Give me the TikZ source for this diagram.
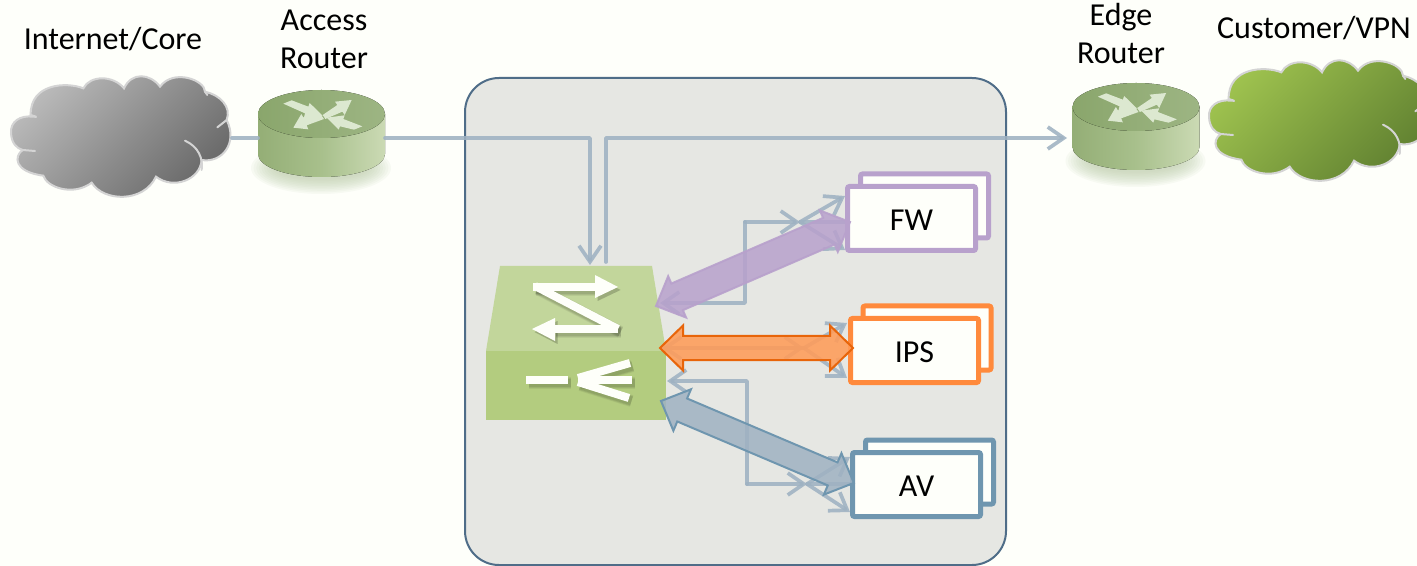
\documentclass[tikz,border=0pt]{standalone}
\usepackage{fontspec}
\setmainfont{Carlito}
\usetikzlibrary{arrows.meta,calc}
\definecolor{bg}{HTML}{FEFFFA}
\definecolor{panelfill}{HTML}{E6E7E3}
\definecolor{panelline}{HTML}{4F6D88}
\definecolor{wire}{HTML}{9FB2C2}
\definecolor{fwc}{HTML}{B8A1CC}
\definecolor{ipsc}{HTML}{FF8A3C}
\definecolor{ipsedge}{HTML}{E8650A}
\definecolor{avc}{HTML}{6F96AF}
\definecolor{halo}{HTML}{B9C9A5}
\definecolor{rtopA}{HTML}{8AA66C}
\definecolor{rtopB}{HTML}{9DB583}
\definecolor{rsideA}{HTML}{94AE76}
\definecolor{rsideB}{HTML}{A8C08C}
\definecolor{rsideC}{HTML}{CBDAB4}
\definecolor{rarrow}{HTML}{DCE8D0}
\definecolor{gcloudA}{HTML}{9FC34F}
\definecolor{gcloudB}{HTML}{5F7F30}
\definecolor{swtop}{HTML}{C2D69B}
\definecolor{swfront}{HTML}{B3CC7F}
\pgfdeclarehorizontalshading{routerside}{100bp}{color(0bp)=(rsideA); color(25bp)=(rsideA); color(50bp)=(rsideB); color(75bp)=(rsideC); color(100bp)=(rsideC)}
\tikzset{
  wireline/.style={draw=wire,line width=1.85pt,opacity=.88,line cap=round,line join=round},
  barb/.style={-{Straight Barb[length=8pt,width=11pt]}},
  lbl/.style={font=\fontsize{16}{19}\selectfont,align=center,inner sep=0pt,text=black},
  boxbase/.style={rectangle,line width=2.5pt,fill=bg,rounded corners=1pt,minimum width=64pt,minimum height=32pt,inner sep=0pt},
  cloudedge/.style={draw=black!17,line width=1pt},
  hook/.style={draw=black!17,line width=1pt,line cap=round},
  bigfw/.style={draw=fwc,fill=fwc,fill opacity=.85,draw opacity=.9,line width=1pt,line join=miter},
  bigips/.style={draw=ipsedge,fill=ipsc!85!white,fill opacity=.88,line width=1pt},
  bigav/.style={draw=avc,fill=wire,fill opacity=.85,line width=1pt},
}
\newcommand\cloudshape[2]{%
  \begin{scope}[shift={(#1)},x=0.16667pt,y=-0.16667pt]
    \path[cloudedge,#2] (100,350) .. controls (60,345) and (30,365) .. (33,400)
      .. controls (35,430) and (50,445) .. (68,450)
      .. controls (42,468) and (40,515) .. (130,527)
      .. controls (140,562) and (220,590) .. (275,548)
      .. controls (310,605) and (430,610) .. (468,530)
      .. controls (520,570) and (600,540) .. (605,480)
      .. controls (665,490) and (715,430) .. (680,360)
      .. controls (695,320) and (660,285) .. (615,275)
      .. controls (615,240) and (520,205) .. (480,260)
      .. controls (450,220) and (395,215) .. (372,265)
      .. controls (340,225) and (270,225) .. (250,265)
      .. controls (200,245) and (90,250) .. (92,345) -- cycle;
    \draw[hook] (68,450) -- (105,453);
    \draw[hook] (555,422) .. controls (595,440) and (610,475) .. (605,510);
    \draw[hook] (652,382) -- (680,360);
    \draw[hook] (92,345) -- (108,350);
    \draw[hook] (615,275) -- (622,285);
  \end{scope}}
\newcommand\routershape[1]{%
  \begin{scope}[shift={(#1)}]
    \foreach \i in {0,...,9}{%
      \fill[halo,opacity=.09] (321,168) ellipse[x radius={35pt-\i*1.3pt},y radius={13pt-\i*.8pt}];}
    \fill[shading=routerside] (258,114) -- (258,154) arc[start angle=180,end angle=360,x radius=31.75pt,y radius=11.5pt] -- (385,114) -- cycle;
    \fill[left color=rtopA,right color=rtopB] (321.5,114) ellipse[x radius=31.75pt,y radius=12pt];
    \begin{scope}[shift={(250,85)},x=0.16667pt,y=-0.16667pt]
      \fill[rarrow] (218,90) -- (262,60) -- (255,50) -- (305,45) -- (284,90) -- (277,80) -- (226,102) -- cycle;
      \fill[rarrow] (212,88) -- (160,97) -- (154,87) -- (130,128) -- (175,133) -- (170,121) -- (222,102) -- cycle;
      \fill[rarrow] (100,56) -- (125,46) -- (175,65) -- (179,54) -- (218,92) -- (162,97) -- (165,85) -- cycle;
      \fill[rarrow] (337,124) -- (312,134) -- (270,124) -- (266,134) -- (230,98) -- (284,91) -- (280,102) -- cycle;
    \end{scope}
  \end{scope}}
\newcommand\bigarrow[4]{%
  \path let \p1=($(#3)-(#2)$), \n1={veclen(\x1,\y1)}, \n2={atan2(\y1,\x1)} in \pgfextra{\xdef\bal{\n1}\xdef\bang{\n2}};
  \draw[#1,shift={(#2)},rotate=\bang] (0pt,0pt) -- (11.5pt,11.25pt) -- (11.5pt,#4) -- ({\bal-11.5pt},#4) -- ({\bal-11.5pt},11.25pt) -- (\bal,0pt) -- ({\bal-11.5pt},-11.25pt) -- ({\bal-11.5pt},-#4) -- (11.5pt,-#4) -- (11.5pt,-11.25pt) -- cycle;}
\newcommand\swglyph[1]{%
  \foreach \o/\w in {.06/2,.07/1.2,.08/.4}{%
    \begin{scope}[shift={(2.5,3)},opacity=\o]
      \begin{scope}[every path/.append style={black,line width=4pt+\w pt}]#1\end{scope}
    \end{scope}}%
  \begin{scope}[every path/.append style={bg,line width=4pt}]#1\end{scope}}
\newcommand\boxtext[1]{\raisebox{-5.8pt}[0pt][0pt]{#1}}
\begin{document}
\begin{tikzpicture}[x=0.5pt,y=-0.5pt]
\useasboundingbox (0,0) rectangle (1417,566);
\fill[bg] (0,0) rectangle (1417,566);
% panel
\draw[panelline,fill=panelfill,line width=1pt,rounded corners=17pt] (465,78) rectangle (1006,565);
% clouds
\begin{scope}
\clip (0,0) rectangle (1417,566);
\cloudshape{0,0}{top color=black!27,bottom color=black!60,shading angle=45}
\cloudshape{1198,-16}{top color=gcloudA,bottom color=gcloudB,shading angle=45}
\end{scope}
% routers
\routershape{0,0}
\routershape{814.5,-7}
% switch
\fill[swtop] (500,266) -- (652,266) -- (666,351) -- (486,351) -- cycle;
\fill[swfront] (486,351) rectangle (666,420);
\swglyph{%
  \draw (533,287) -- (597,287);
  \fill (595,275) -- (618,287) -- (595,298) -- cycle;
  \draw (535,286) -- (618,329);
  \draw (618,329) -- (553,329);
  \fill (555,318) -- (532,329) -- (555,341) -- cycle;
  \draw (526,380) -- (568,380);
  \draw (578,378) -- (630,363);
  \draw (578,380) -- (632,380);
  \draw (578,382) -- (629,398);
}
% coordinates
\coordinate (cloudA) at (232,138);
\coordinate (accessIn) at (258,138);
\coordinate (accessOut) at (385,138);
\coordinate (swIn) at (590,265);
\coordinate (swOut) at (606,262);
\coordinate (edgeIn) at (1067,138);
\coordinate (fwL) at (660,303);
\coordinate (fwElbow) at (745,222);
\coordinate (fwFork) at (800,222);
\coordinate (fwUp) at (845,196);
\coordinate (fwDown) at (845,250);
\coordinate (fwMid) at (847,222);
\coordinate (ipsL) at (662,348);
\coordinate (ipsFork) at (804,348);
\coordinate (ipsUp) at (847,323);
\coordinate (ipsDown) at (847,378);
\coordinate (avL) at (667,381);
\coordinate (avElbow) at (747,484);
\coordinate (avFork) at (807,484);
\coordinate (avUp) at (850,457);
\coordinate (avDown) at (850,512);
\coordinate (avMid) at (853,484);
% wires
\draw[wireline] (cloudA) -- (accessIn);
\draw[wireline,barb] (accessOut) -| (swIn);
\draw[wireline,barb] (swOut) |- (edgeIn);
\draw[wireline,barb] (fwElbow) |- (fwL);
\draw[wireline,barb] (fwElbow) -- (fwFork);
\draw[wireline,barb] (fwFork) -- (fwUp);
\draw[wireline,barb] (fwFork) -- (fwDown);
\draw[wireline] (fwFork) -- (fwMid);
\draw[wireline,barb] (ipsFork) -- (ipsL);
\draw[wireline,barb] (ipsL) -- (ipsFork);
\draw[wireline,barb] (ipsFork) -- (ipsUp);
\draw[wireline,barb] (ipsFork) -- (ipsDown);
\draw[wireline,barb] (avElbow) |- (avL);
\draw[wireline,barb] (avElbow) -- (avFork);
\draw[wireline,barb] (avFork) -- (avUp);
\draw[wireline,barb] (avFork) -- (avDown);
\draw[wireline] (avFork) -- (avMid);
% boxes
\node[boxbase,draw=fwc,name=fwback] at (924.5,206) {};
\node[boxbase,draw=fwc,name=fw,lbl] at (911.5,218.5) {\boxtext{FW}};
\node[boxbase,draw=ipsc,name=ipsback] at (927,338) {};
\node[boxbase,draw=ipsc,name=ips,lbl] at (914.5,350.5) {\boxtext{IPS}};
\node[boxbase,draw=avc,name=avback] at (929.5,472) {};
\node[boxbase,draw=avc,name=av,lbl] at (916.5,484.5) {\boxtext{AV}};
% thick arrows
\coordinate (pL) at (656,306);
\coordinate (pR) at (850,222);
\coordinate (oL) at (660,348);
\coordinate (oR) at (853,348);
\coordinate (bL) at (661,401);
\coordinate (bR) at (854,483);
\bigarrow{bigfw}{pL}{pR}{7.25pt}
\bigarrow{bigips}{oL}{oR}{6pt}
\bigarrow{bigav}{bL}{bR}{6.25pt}
% labels
\node[lbl,name=tInternet] at (113,39) {Internet/Core};
\node[lbl,name=tAccess] at (324,39) {Access\\Router};
\node[lbl,name=tEdge] at (1121,34) {Edge\\Router};
\node[lbl,name=tCustomer] at (1314,28) {Customer/VPN};
\end{tikzpicture}
\end{document}
